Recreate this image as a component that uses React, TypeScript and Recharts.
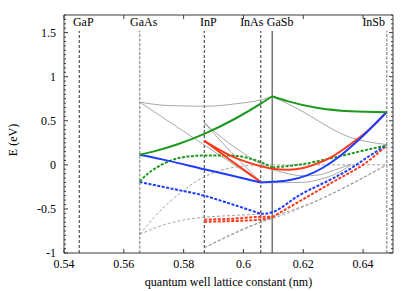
import React from 'react';
import { LineChart, Line, XAxis, YAxis, ReferenceLine } from 'recharts';

const FONT = '"Liberation Serif", "Times New Roman", serif';
const AXIS = '#3a3a3a';

// binaries and their lattice constants (nm)
const materials = ['GaP', 'GaAs', 'InP', 'InAs', 'GaSb', 'InSb'];
const latticeNm = [0.5451, 0.5653, 0.5869, 0.6058, 0.6096, 0.6479];
const labelShift = [4, 4, 4, -9, 8, -13];

const xTicks = [0.54, 0.56, 0.58, 0.6, 0.62, 0.64];
const yMajor = [-1, -0.5, 0, 0.5, 1, 1.5];

// [lattice constant, E]
const greenLeft = [[0.5653, 0.114], [0.5704, 0.156], [0.578, 0.234], [0.5869, 0.352], [0.5972, 0.523], [0.6058, 0.694], [0.6096, 0.778]];
const greenRight = [[0.6096, 0.778], [0.615, 0.72], [0.6245, 0.647], [0.6357, 0.608], [0.6479, 0.598]];
const blueLeft = [[0.5653, 0.114], [0.575, 0.045], [0.5869, -0.05], [0.596, -0.12], [0.6058, -0.2]];
const blueRight = [[0.6058, -0.2], [0.6096, -0.193], [0.6156, -0.172], [0.6212, -0.12], [0.6267, -0.03], [0.6323, 0.1], [0.6368, 0.23], [0.6412, 0.37], [0.6479, 0.6]];
const redLow = [[0.5869, 0.273], [0.5958, 0.05], [0.6058, -0.196]];
const redUp = [[0.5869, 0.273], [0.592, 0.17], [0.596, 0.1], [0.6, 0.045], [0.6058, -0.015], [0.6096, -0.045], [0.615, -0.055], [0.62, -0.035], [0.625, 0.02], [0.63, 0.1], [0.634, 0.19], [0.638, 0.29], [0.6412, 0.375], [0.6479, 0.6]];

const greenDashLeft = [[0.5653, -0.19], [0.568, -0.1], [0.5705, -0.04], [0.5732, 0.01], [0.5788, 0.08], [0.5868, 0.106], [0.5955, 0.106], [0.6058, 0.03], [0.6096, -0.03]];
const greenDashRight = [[0.6096, -0.03], [0.62, 0.01], [0.63, 0.08], [0.6412, 0.17], [0.6479, 0.22]];
const blueDashLeft = [[0.5653, -0.195], [0.576, -0.27], [0.5869, -0.35], [0.5955, -0.44], [0.6058, -0.555]];
const blueDashRight = [[0.6058, -0.555], [0.6078, -0.553], [0.6096, -0.537], [0.6189, -0.34], [0.6301, -0.15], [0.6357, -0.045], [0.6412, 0.08], [0.6479, 0.228]];
const redDashA = [[0.5869, -0.62], [0.596, -0.612], [0.6058, -0.59], [0.6096, -0.59]];
const redDashB = [[0.5869, -0.645], [0.596, -0.638], [0.6058, -0.62], [0.6096, -0.595]];
const redDashRight = [[0.6096, -0.592], [0.6189, -0.41], [0.6301, -0.19], [0.6412, 0.03], [0.6479, 0.22]];

const graySolid1 = [[0.5653, 0.712], [0.5748, 0.673], [0.5882, 0.665], [0.5972, 0.692], [0.6058, 0.737], [0.6096, 0.775]];
const graySolid2 = [[0.6096, 0.775], [0.615, 0.69], [0.62, 0.6], [0.625, 0.5], [0.63, 0.4], [0.635, 0.32], [0.6412, 0.265], [0.6479, 0.23]];
const graySolid3 = [[0.5653, 0.712], [0.6058, -0.2]];
const graySolid4 = [[0.5869, 0.477], [0.596, 0.14], [0.6058, -0.196]];
const graySolid5 = [[0.5869, 0.477], [0.595, 0.25], [0.6, 0.13], [0.6058, 0.01], [0.6096, -0.05], [0.615, -0.1], [0.62, -0.125], [0.625, -0.115], [0.63, -0.065], [0.636, 0.01]];
const graySolid6 = [[0.6058, -0.2], [0.6096, -0.203], [0.62, -0.198], [0.626, -0.16], [0.631, -0.1], [0.636, 0.0]];

const grayDash1 = [[0.5653, -0.79], [0.57, -0.6], [0.575, -0.43], [0.58, -0.29], [0.585, -0.17], [0.59, -0.09], [0.595, -0.04], [0.6, -0.012], [0.6058, 0], [0.6096, 0]];
const grayDashFlat = [[0.6096, 0], [0.6479, 0]];
const grayDash2 = [[0.5653, -0.79], [0.57, -0.72], [0.575, -0.665], [0.58, -0.625], [0.5869, -0.595], [0.596, -0.575], [0.6058, -0.56]];
const grayDash3 = [[0.5869, -0.94], [0.6058, -0.65], [0.6096, -0.61], [0.6479, 0.0]];
const grayDash4 = [[0.5869, -0.94], [0.6096, -0.595], [0.625, -0.4], [0.6479, 0.0]];

const GREEN = '#1c991c';
const BLUE = '#1f3cff';
const RED = '#ff3a1a';
const GRAY = '#a8a8a8';
const GRAYD = '#8c8c8c';

const series = [
  { id: 'gd1', d: grayDash1, c: GRAYD, w: 0.8, dash: '3 2' },
  { id: 'gdf', d: grayDashFlat, c: GRAYD, w: 0.8, dash: '3 2' },
  { id: 'gd2', d: grayDash2, c: GRAYD, w: 0.8, dash: '3 2' },
  { id: 'gd3', d: grayDash3, c: GRAYD, w: 0.8, dash: '3 2' },
  { id: 'gd4', d: grayDash4, c: GRAYD, w: 0.8, dash: '3 2' },
  { id: 'gs1', d: graySolid1, c: GRAY, w: 1 },
  { id: 'gs2', d: graySolid2, c: GRAY, w: 1 },
  { id: 'gs3', d: graySolid3, c: GRAY, w: 1 },
  { id: 'gs4', d: graySolid4, c: GRAY, w: 1 },
  { id: 'gs5', d: graySolid5, c: GRAY, w: 1 },
  { id: 'gs6', d: graySolid6, c: GRAY, w: 1 },
  { id: 'rdA', d: redDashA, c: RED, w: 2, dash: '3 1.5' },
  { id: 'rdB', d: redDashB, c: RED, w: 2, dash: '3 1.5' },
  { id: 'rdR', d: redDashRight, c: RED, w: 2, dash: '3 1.5' },
  { id: 'bdL', d: blueDashLeft, c: BLUE, w: 2, dash: '3 1.5' },
  { id: 'bdR', d: blueDashRight, c: BLUE, w: 2, dash: '3 1.5' },
  { id: 'gdL', d: greenDashLeft, c: GREEN, w: 2, dash: '3 1.5' },
  { id: 'gdR', d: greenDashRight, c: GREEN, w: 2, dash: '3 1.5' },
  { id: 'rLow', d: redLow, c: RED, w: 2 },
  { id: 'rUp', d: redUp, c: RED, w: 2 },
  { id: 'bL', d: blueLeft, c: BLUE, w: 2 },
  { id: 'bR', d: blueRight, c: BLUE, w: 2 },
  { id: 'gL', d: greenLeft, c: GREEN, w: 2 },
  { id: 'gR', d: greenRight, c: GREEN, w: 2 },
];

// minor ticks every 0.05 eV
const yTicks: number[] = [];
for (let i = 0; i <= 54; i++) yTicks.push(Math.round((-1 + i * 0.05) * 100) / 100);
const isMajor = (v: number) => yMajor.some((m) => Math.abs(m - v) < 1e-6);

const pts = (arr: number[][]) => arr.map(([a, e]) => ({ a, e }));

const vlineStyle = (i: number) => {
  if (i === 4) return { stroke: '#333', strokeWidth: 1, strokeDasharray: undefined as string | undefined };
  if (i === 1 || i === 5) return { stroke: '#a0a0a0', strokeWidth: 1.5, strokeDasharray: '3 1.5' };
  return { stroke: '#333', strokeWidth: 1, strokeDasharray: '3 2' };
};

const BottomTick = ({ x, y, payload }: any) => (
  <g>
    <line x1={x} y1={y} x2={x} y2={y - 4} stroke={AXIS} />
    <text x={x} y={y + 15} textAnchor="middle" fontSize={12} fontFamily={FONT} fill="#000">{payload.value}</text>
  </g>
);
const TopTick = ({ x, y }: any) => <line x1={x} y1={y} x2={x} y2={y + 4} stroke={AXIS} />;
const LeftTick = ({ x, y, payload }: any) => {
  const major = isMajor(payload.value);
  return (
    <g>
      <line x1={x} y1={y} x2={x + (major ? 4 : 2)} y2={y} stroke={AXIS} />
      {major && (
        <text x={x - 8} y={y + 4} textAnchor="end" fontSize={12} fontFamily={FONT} fill="#000">{payload.value}</text>
      )}
    </g>
  );
};
const RightTick = ({ x, y, payload }: any) => (
  <line x1={x} y1={y} x2={x - (isMajor(payload.value) ? 4 : 2)} y2={y} stroke={AXIS} />
);

const YLabel = ({ viewBox }: any) => (
  <text transform={`translate(${viewBox.x + 17}, ${viewBox.y + viewBox.height / 2 + 6}) rotate(-90)`} textAnchor="middle" fontSize={12} fontFamily={FONT} fill="#000">E (eV)</text>
);
const XLabel = ({ viewBox }: any) => (
  <text x={viewBox.x + viewBox.width / 2} y={viewBox.y + 33} textAnchor="middle" fontSize={12} fontFamily={FONT} fill="#000">quantum well lattice constant (nm)</text>
);
const MatLabel = ({ viewBox, value, dx }: any) => (
  <text x={viewBox.x + dx} y={viewBox.y - 5} textAnchor="middle" fontSize={12} fontFamily={FONT} fill="#000">{value}</text>
);

export default function App() {
  return (
    <div style={{ position: 'absolute', left: 0, top: 0, width: 415, height: 291, background: '#fff' }}>
      <LineChart width={415} height={291} margin={{ top: 0, right: 0, bottom: 0, left: 0 }}>
        <XAxis xAxisId={0} dataKey="a" type="number" domain={[0.54, 0.65]} allowDataOverflow ticks={xTicks} interval={0}
          height={38} tickSize={0} tickMargin={0} tickLine={false} tick={<BottomTick />} stroke={AXIS}
          label={<XLabel />} />
        <XAxis xAxisId="top" orientation="top" dataKey="a" type="number" domain={[0.54, 0.65]} allowDataOverflow ticks={xTicks} interval={0}
          height={15} tickSize={0} tickMargin={0} tickLine={false} tick={<TopTick />} stroke={AXIS} />
        <YAxis yAxisId={0} type="number" domain={[-1, 1.7]} allowDataOverflow ticks={yTicks} interval={0}
          width={64} tickSize={0} tickMargin={0} tickLine={false} tick={<LeftTick />} stroke={AXIS}
          label={<YLabel />} />
        <YAxis yAxisId="right" orientation="right" type="number" domain={[-1, 1.7]} allowDataOverflow ticks={yTicks} interval={0}
          width={22} tickSize={0} tickMargin={0} tickLine={false} tick={<RightTick />} stroke={AXIS} />
        {latticeNm.map((v, i) => (
          <ReferenceLine key={materials[i]} segment={[{ x: v, y: -1 }, { x: v, y: 1.52 }]} {...vlineStyle(i)}
            label={<MatLabel value={materials[i]} dx={labelShift[i]} />} />
        ))}
        {series.map((s) => (
          <Line key={s.id} data={pts(s.d)} dataKey="e" type="monotone" stroke={s.c} strokeWidth={s.w}
            strokeDasharray={s.dash} dot={false} activeDot={false} isAnimationActive={false} />
        ))}
      </LineChart>
    </div>
  );
}
